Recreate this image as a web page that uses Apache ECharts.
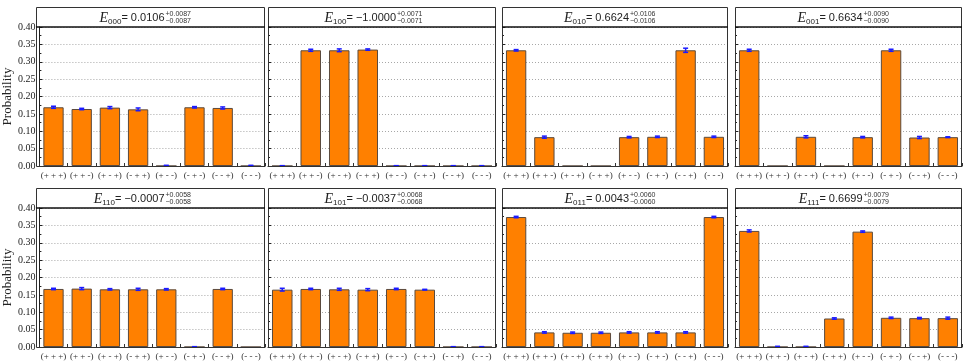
<!DOCTYPE html>
<html><head><meta charset="utf-8">
<script src="https://cdn.jsdelivr.net/npm/echarts@6/dist/echarts.min.js"></script>
<style>html,body{margin:0;padding:0;background:#fff}#c{width:968px;height:362px}</style>
</head><body><div id="c"></div>
<script>
// ---------- data ----------
const labelsTop = ['(+ + +)','(+ + -)','(+ - +)','(- + +)','(+ - -)','(- + -)','(- - +)','(- - -)'];
const labelsBottom = ['(+ + +)','(+ + -)','(+ - +)','(- + +)','(+ - -)','(- + -)','(- - +)','(- - -)'];

const e000Vals = [0.169, 0.164, 0.168, 0.163, 0.000, 0.169, 0.167, 0.000];
const e000Errs = [0.003, 0.002, 0.003, 0.004, 0.002, 0.002, 0.003, 0.002];
const e100Vals = [0.000, 0.333, 0.333, 0.335, 0.000, 0.000, 0.000, 0.000];
const e100Errs = [0.001, 0.003, 0.004, 0.002, 0.001, 0.001, 0.001, 0.001];
const e010Vals = [0.333, 0.083, 0.000, 0.000, 0.083, 0.084, 0.333, 0.084];
const e010Errs = [0.002, 0.003, 0.000, 0.000, 0.002, 0.002, 0.006, 0.002];
const e001Vals = [0.333, 0.000, 0.084, 0.000, 0.083, 0.333, 0.082, 0.083];
const e001Errs = [0.003, 0.000, 0.003, 0.000, 0.002, 0.003, 0.003, 0.001];
const e110Vals = [0.167, 0.168, 0.166, 0.166, 0.166, 0.000, 0.167, 0.000];
const e110Errs = [0.002, 0.003, 0.002, 0.003, 0.002, 0.001, 0.002, 0.000];
const e101Vals = [0.165, 0.167, 0.166, 0.165, 0.167, 0.165, 0.000, 0.000];
const e101Errs = [0.004, 0.002, 0.003, 0.003, 0.002, 0.001, 0.001, 0.001];
const e011Vals = [0.374, 0.042, 0.041, 0.041, 0.042, 0.042, 0.042, 0.374];
const e011Errs = [0.002, 0.002, 0.002, 0.002, 0.002, 0.002, 0.002, 0.002];
const e111Vals = [0.334, 0.000, 0.000, 0.082, 0.332, 0.084, 0.083, 0.083];
const e111Errs = [0.003, 0.002, 0.002, 0.002, 0.002, 0.002, 0.002, 0.003];

const panelSubs   = ['000','100','010','001','110','101','011','111'];
const panelValues = ['0.0106','\u22121.0000','0.6624','0.6634','\u22120.0007','\u22120.0037','0.0043','0.6699'];
const panelErrors = ['0.0087','0.0071','0.0106','0.0090','0.0058','0.0068','0.0060','0.0079'];
const panelVals = [e000Vals, e100Vals, e010Vals, e001Vals, e110Vals, e101Vals, e011Vals, e111Vals];
const panelErrs = [e000Errs, e100Errs, e010Errs, e001Errs, e110Errs, e101Errs, e011Errs, e111Errs];

// ---------- layout ----------
const cols = [[36,265],[268,496],[502,728],[735,962]];
const rows = [{boxTop:7, top:27, bottom:166}, {boxTop:188, top:208, bottom:347}];
const serif = 'Liberation Serif';

const grids = [], xAxes = [], yAxes = [], series = [], graphics = [];
for (let p = 0; p < 8; p++) {
  const r = rows[Math.floor(p/4)], c = cols[p%4], col = p%4;
  grids.push({left:c[0], width:c[1]-c[0], top:r.top, height:r.bottom-r.top});
  xAxes.push({
    gridIndex:p, type:'category', data: p<4 ? labelsTop : labelsBottom,
    axisLine:{lineStyle:{color:'#222', width:1}},
    axisTick:{show:true, inside:true, length:3, lineStyle:{color:'#333'}},
    axisLabel:{interval:0, fontFamily:serif, fontSize:9, color:'#333', margin:5},
    splitLine:{show:false}
  });
  yAxes.push({
    gridIndex:p, type:'value', min:0, max:0.4, interval:0.05,
    axisLine:{show:true, lineStyle:{color:'#222', width:1}},
    axisTick:{show:true, inside:true, length:3, lineStyle:{color:'#222'}},
    minorTick:{show:true, splitNumber:2, length:2, lineStyle:{color:'#222'}},
    axisLabel:{show: col===0, fontFamily:serif, fontSize:10, color:'#222', margin:4,
               formatter: v => v.toFixed(2)},
    splitLine:{show:true, lineStyle:{type:[1,2], color:'#a8a8a8', width:1}},
    name: col===0 ? 'Probability' : '', nameLocation:'middle', nameGap:25,
    nameTextStyle:{fontFamily:serif, fontSize:13, color:'#222'}
  });
  series.push({
    type:'bar', xAxisIndex:p, yAxisIndex:p, data: panelVals[p], barWidth:'72%',
    itemStyle:{color:'#FF8000', borderColor:'#5a4a3e', borderWidth:1}, z:2
  });
  series.push({
    type:'custom', xAxisIndex:p, yAxisIndex:p, z:5,
    data: panelVals[p].map((v,i)=>[i, v, panelErrs[p][i]]),
    renderItem: (params, api) => {
      const x = api.value(0), v = api.value(1), e = api.value(2);
      if (e <= 0) return null;
      const hi = api.coord([x, v+e]), lo = api.coord([x, Math.max(0, v-e)]);
      const cap = 2.5, st = {stroke:'#1a1aff', lineWidth:1.5};
      return {type:'group', children:[
        {type:'line', shape:{x1:hi[0], y1:hi[1], x2:lo[0], y2:lo[1]}, style:st},
        {type:'line', shape:{x1:hi[0]-cap, y1:hi[1], x2:hi[0]+cap, y2:hi[1]}, style:st},
        {type:'line', shape:{x1:lo[0]-cap, y1:lo[1], x2:lo[0]+cap, y2:lo[1]}, style:st}
      ]};
    }
  });
  graphics.push({type:'rect', shape:{x:c[0]+0.5, y:r.boxTop+0.5, width:c[1]-c[0]-1, height:r.bottom-r.boxTop},
    style:{fill:null, stroke:'#333', lineWidth:1}, z:10, silent:true});
  graphics.push({type:'line', shape:{x1:c[0], y1:r.top, x2:c[1], y2:r.top},
    style:{stroke:'#111', lineWidth:1.5}, z:10, silent:true});
  const cx = (c[0]+c[1])/2, cy = (r.boxTop+r.top)/2;
  const join = cx + 14;
  graphics.push({type:'text', x:join, y:cy+1, z:11, silent:true, style:{
    text:'{e|E}{s|'+panelSubs[p]+'}{v|= '+panelValues[p]+'}',
    align:'right', verticalAlign:'middle',
    rich:{
      e:{fontFamily:serif, fontStyle:'italic', fontSize:14, fill:'#222', lineHeight:16, verticalAlign:'middle'},
      s:{fontFamily:'Liberation Sans', fontSize:8, fill:'#222', lineHeight:16, verticalAlign:'bottom', padding:[6,0,0,0]},
      v:{fontFamily:'Liberation Sans', fontSize:11, fill:'#222', lineHeight:16, verticalAlign:'middle'}
    }}});
  graphics.push({type:'text', x:join+1, y:cy+1, z:11, silent:true, style:{
    text:'+'+panelErrors[p]+'\n\u2212'+panelErrors[p], align:'left', verticalAlign:'middle',
    fontFamily:'Liberation Sans', fontSize:7, lineHeight:7, fill:'#333'}});
}

const chart = echarts.init(document.getElementById('c'));
chart.setOption({
  animation:false, backgroundColor:'#fff',
  grid:grids, xAxis:xAxes, yAxis:yAxes, series:series, graphic:graphics
});
</script></body></html>
